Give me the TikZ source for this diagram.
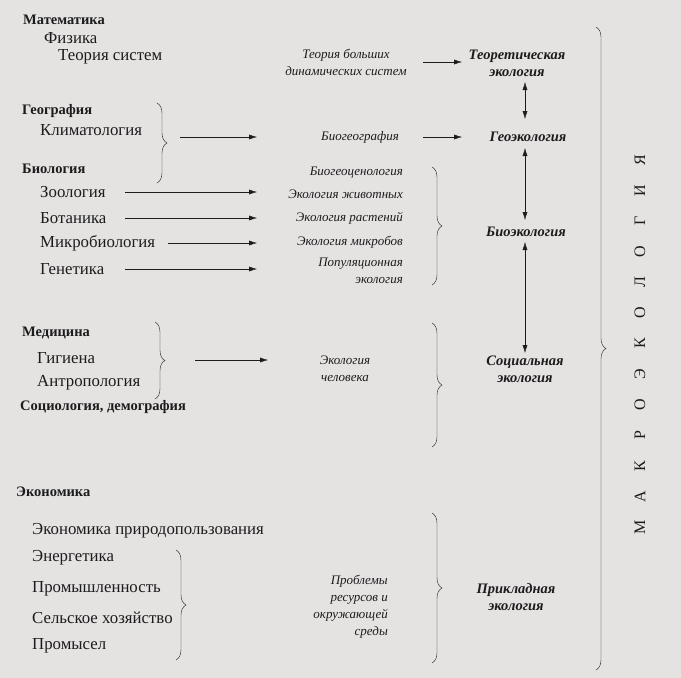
\documentclass[tikz,border=0pt]{standalone}
\usepackage{fontspec}
\setmainfont{Liberation Serif}
\usetikzlibrary{arrows.meta,positioning,decorations.pathreplacing}
\definecolor{paper}{RGB}{229,226,226}
\definecolor{ink}{RGB}{28,28,28}

\begin{document}
\begin{tikzpicture}[x=1pt,y=-1pt,
   every node/.style={inner sep=0pt,text=ink},
   head/.style={anchor=west,font=\bfseries\fontsize{14.5}{16}\selectfont},
   item/.style={anchor=west,font=\fontsize{16.8}{18}\selectfont},
   sub/.style={font=\itshape\fontsize{13}{17}\selectfont,align=center},
   subr/.style={sub,align=right,anchor=east},
   eco/.style={font=\bfseries\itshape\fontsize{14.5}{17}\selectfont,align=center},
   brc/.style={draw=ink,decorate,decoration={brace,amplitude=10pt}},
   >={Latex[length=8pt,width=5pt]},
   arr/.style={draw=ink,->},
   dbl/.style={draw=ink,<->}]
  \fill[paper] (0,0) rectangle (681,678);

  % left column
  \node[head] (mat) at (23,20) {Математика};
  \node[item] (phys) at (44,38) {Физика};
  \node[item] (sys) at (58,57) {Теория систем};
  \node[head] (geo) at (22,111) {География};
  \node[item] (clim) at (40,130) {Климатология};
  \node[head] (bio) at (22,169) {Биология};
  \node[item] (zoo) at (40,192) {Зоология};
  \node[item] (bot) at (40,218) {Ботаника};
  \node[item] (micro) at (40,243) {Микробиология};
  \node[item] (gen) at (40,269) {Генетика};
  \node[head] (med) at (22,333) {Медицина};
  \node[item] (hyg) at (37,358) {Гигиена};
  \node[item] (anth) at (37,383) {Антропология};
  \node[head] (soc) at (20,407) {Социология, демография};
  \node[head] (econ) at (16,492) {Экономика};
  \node[item] (nat) at (32,531) {Экономика природопользования};
  \node[item] (ener) at (32,558) {Энергетика};
  \node[item] (ind) at (32,589) {Промышленность};
  \node[item] (agr) at (32,618) {Сельское хозяйство};
  \node[item] (fish) at (32,646) {Промысел};

  % middle column
  \node[sub] (tbds) at (346,62) {Теория больших\\динамических систем};
  \node[sub] (biogeo) at (360,137) {Биогеография};
  \node[subr] (bgc) at (403,173) {Биогеоценология};
  \node[subr] (eanim) at (403,194) {Экология животных};
  \node[subr] (eplant) at (403,218) {Экология растений};
  \node[subr] (emicro) at (403,242) {Экология микробов};
  \node[subr] (epop) at (403,271) {Популяционная\\экология};
  \node[sub] (ehum) at (345,369) {Экология\\человека};
  \node[subr] (probl) at (388,607) {Проблемы\\ресурсов и\\окружающей\\среды};

  % right column
  \node[eco] (theo) at (517,63) {Теоретическая\\экология};
  \node[eco] (geoeco) at (528,137) {Геоэкология};
  \node[eco] (bioeco) at (526,232) {Биоэкология};
  \node[eco] (soceco) at (525,369) {Социальная\\экология};
  \node[eco] (appl) at (516,597) {Прикладная\\экология};

  \foreach \l [count=\i] in {М,А,К,Р,О,Э,К,О,Л,О,Г,И,Я}
    \node[rotate=90,font=\fontsize{16}{16}\selectfont] (mk\i) at (640,{527-30.6*(\i-1)}) {\l};

  % braces
  \draw[brc] (157,103) -- (157,183);
  \draw[brc] (155,322) -- (155,399);
  \draw[brc] (176,550) -- (176,660);
  \draw[brc] (432,167) -- (432,285);
  \draw[brc] (432,323) -- (432,447);
  \draw[brc] (432,513) -- (432,663);
  \draw[brc] (596,27) -- (596,670);

  % arrows
  \coordinate (la) at (125,0);
  \coordinate (lb) at (257,0);
  \coordinate (ma) at (423,0);
  \coordinate (mb) at (462,0);
  \coordinate (ax) at (525,0);
  \coordinate (gt) at (180,137);
  \coordinate (mt) at (195,360);
  \coordinate (me) at (268,360);
  \draw[arr] (gt) -- (gt -| lb);
  \draw[arr] (zoo -| la) -- (zoo -| lb);
  \draw[arr] (bot -| la) -- (bot -| lb);
  \draw[arr] ([xshift=13pt]micro.east) -- (micro -| lb);
  \draw[arr] (gen -| la) -- (gen -| lb);
  \draw[arr] (mt) -- (me);
  \draw[arr] (tbds -| ma) -- (tbds -| mb);
  \draw[arr] (biogeo -| ma) -- (biogeo -| mb);
  \draw[dbl,shorten <=19pt,shorten >=18pt] (theo -| ax) -- (geoeco -| ax);
  \draw[dbl,shorten <=11pt,shorten >=12pt] (geoeco -| ax) -- (bioeco -| ax);
  \draw[dbl,shorten <=10pt,shorten >=16pt] (bioeco -| ax) -- (soceco -| ax);
\end{tikzpicture}
\end{document}
